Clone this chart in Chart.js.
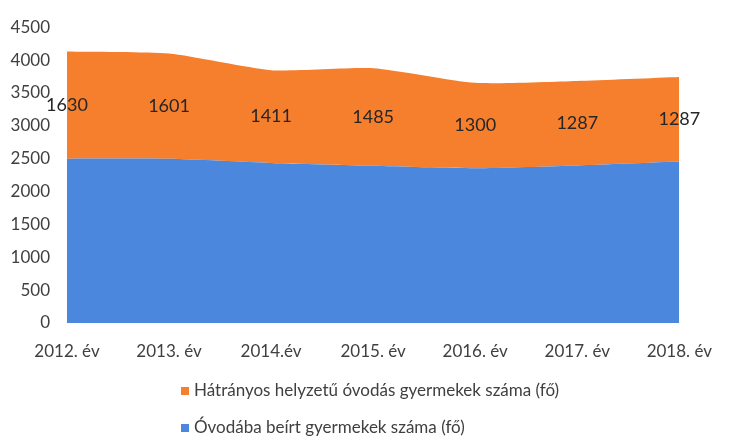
<!DOCTYPE html>
<html lang="hu">
<head>
<meta charset="utf-8">
<title>Óvodás gyermekek száma</title>
<script src="https://cdn.jsdelivr.net/npm/chart.js@4"></script>
<style>
  html, body { margin: 0; padding: 0; background: #fff; }
  #wrap { width: 730px; height: 437px; position: relative; }
</style>
</head>
<body>
<div id="wrap"><canvas id="chart"></canvas></div>
<script>
// ── Data ────────────────────────────────────────────────────────────────────
const years        = ['2012. év', '2013. év', '2014.év', '2015. év', '2016. év', '2017. év', '2018. év'];
const enrolled     = [2500, 2497, 2435, 2391, 2354, 2396, 2456];   // Óvodába beírt gyermekek
const disadvantaged = [1630, 1601, 1411, 1485, 1300, 1287, 1287];  // Hátrányos helyzetű óvodások
const yTicks       = [0, 500, 1000, 1500, 2000, 2500, 3000, 3500, 4000, 4500];

const orange = '#f67f2e';
const blue   = '#4b87dd';
const font   = 'Lato, "Open Sans", sans-serif';

// Value labels centred in the orange band
const bandLabels = {
  id: 'bandLabels',
  afterDatasetsDraw(chart) {
    const { ctx, scales: { x, y } } = chart;
    ctx.save();
    ctx.font = '18px ' + font;
    ctx.fillStyle = '#262626';
    ctx.textAlign = 'center';
    ctx.textBaseline = 'middle';
    disadvantaged.forEach((v, i) => {
      const mid = enrolled[i] + v / 2;
      ctx.fillText(String(v), x.getPixelForValue(i), y.getPixelForValue(mid));
    });
    ctx.restore();
  },
};

// Stacked legend under the chart, one entry per line
const stackedLegend = {
  id: 'stackedLegend',
  afterDraw(chart) {
    const { ctx } = chart;
    const items = [chart.data.datasets[1], chart.data.datasets[0]];
    ctx.save();
    ctx.font = '17px ' + font;
    ctx.textBaseline = 'middle';
    items.forEach((ds, i) => {
      const cy = 391 + i * 37;
      ctx.fillStyle = ds.backgroundColor;
      ctx.fillRect(181, cy - 4, 8, 8);
      ctx.fillStyle = '#404040';
      ctx.fillText(ds.label, 194, cy);
    });
    ctx.restore();
  },
};

new Chart(document.getElementById('chart'), {
  type: 'line',
  data: {
    labels: years,
    datasets: [
      {
        label: 'Óvodába beírt gyermekek száma (fő)',
        data: enrolled,
        backgroundColor: blue,
        borderColor: blue,
        borderWidth: 0,
        fill: 'origin',
        pointRadius: 0,
        tension: 0.2,
      },
      {
        label: 'Hátrányos helyzetű óvodás gyermekek száma (fő)',
        data: disadvantaged,
        backgroundColor: orange,
        borderColor: orange,
        borderWidth: 0,
        fill: '-1',
        pointRadius: 0,
        tension: 0.2,
      },
    ],
  },
  options: {
    responsive: true,
    maintainAspectRatio: false,
    animation: false,
    layout: { padding: { top: 19, right: 35, left: 0, bottom: 0 } },
    plugins: {
      legend: { display: false },
      tooltip: { enabled: false },
    },
    scales: {
      x: {
        offset: false,
        grid: { display: false, drawTicks: false },
        border: { display: false },
        ticks: { color: '#404040', font: { family: font, size: 17 }, padding: 18, maxRotation: 0, autoSkip: false },
        afterFit: s => { s.height = 114; },
      },
      y: {
        stacked: true,
        min: 0,
        max: 4500,
        grid: { display: false, drawTicks: false },
        border: { display: false },
        afterBuildTicks: s => { s.ticks = yTicks.map(v => ({ value: v })); },
        ticks: { color: '#404040', font: { family: font, size: 17 }, padding: 17, callback: v => String(v) },
        afterFit: s => { s.width = 67; },
      },
    },
  },
  plugins: [bandLabels, stackedLegend],
});
</script>
</body>
</html>
